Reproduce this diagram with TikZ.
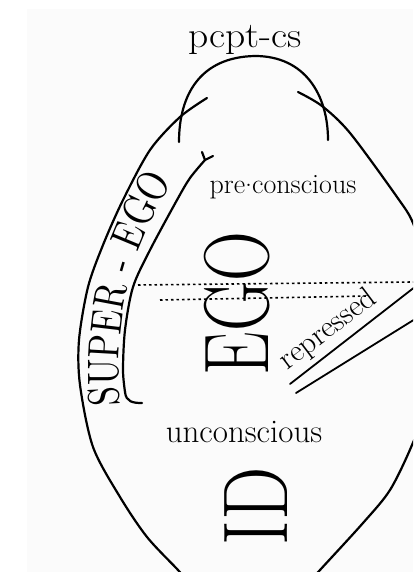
\documentclass[tikz,border=0pt]{standalone}
\usepackage{fontspec}
\usepackage{graphicx}
\usetikzlibrary{decorations.text}
\newfontfamily\condfont{lmroman10-regular.otf}[FakeStretch=0.8]
\begin{document}
\begin{tikzpicture}[x=1pt,y=-1pt,
  ln/.style={line width=2.2pt, line cap=round, line join=round},
  dotln/.style={line width=1.6pt, dash pattern=on 2.5pt off 3pt},
  lbl/.style={inner sep=0pt}]
\useasboundingbox (0,0) rectangle (413,572);
\fill[black!1.5] (27,9) rectangle (413,572);
\begin{scope}
\clip (0,0) rectangle (413,572);
% outer oval, left and right sides
\draw[ln] plot[smooth] coordinates {(207,98) (180,117) (150,150) (123,200) (103,245) (88,287) (79,340) (80,385) (93,447) (120,497) (147,537) (178,570) (186,580)};
\draw[ln] plot[smooth] coordinates {(298,92) (322,106) (350,133) (397,197) (413,223) (428,270) (436,335) (428,400) (412,445) (390,490) (363,523) (320,570) (311,580)};
% repressed double line
\draw[ln, line width=1.8pt] (290,384) -- (420,283);
\draw[ln, line width=1.8pt] (296,393) -- (420,316);
% dotted boundaries
\draw[dotln] (138,285) -- (413,282);
\end{scope}
\draw[dotln] (160,300) -- (368,296);
% perception-consciousness cap
\draw[ln] (179,142) .. controls (179,95) and (200,57) .. (255,56) .. controls (305,56) and (328,95) .. (328,140);
% super-ego inner arc
\draw[ln] plot[smooth] coordinates {(205,160) (190,178) (177,200) (150,250) (133,287) (125,330) (123,370) (125,392)};
\draw[ln] (125,392) .. controls (126,402) and (133,403) .. (142,403);
\draw[ln] (205,160) -- (202,152);
\draw[ln] (205,160) -- (213,156);
% texts
\node[lbl, font=\fontsize{36}{36}\selectfont, anchor=base] (pcpt) at (245,48) {\scalebox{1.1}[1]{pcpt-cs}};
\node[lbl, font=\fontsize{28}{28}\selectfont, anchor=base] (pre) at (283,193) {pre\raisebox{.22em}{.}conscious};
\node[lbl, font=\fontsize{33}{33}\selectfont, anchor=base] (uncon) at (244,442) {unconscious};
\node[lbl, rotate=90] (ego) at (237.5,303.5) {\fontsize{92}{92}\selectfont\scalebox{0.75}[1]{EGO}};
\node[lbl, rotate=90] (id) at (256,506) {\fontsize{92}{92}\selectfont\scalebox{0.82}[1]{ID}};
\node[lbl, rotate=37, anchor=base, font=\fontsize{31}{31}\selectfont] (rep) at (333,336) {repressed};
\path[decorate, decoration={text along path, text align=left,
  text={|\condfont\fontsize{44}{44}\selectfont|SUPER - EGO}}]
  (120,405) .. controls (116,350) and (122,300) .. (135,260)
  .. controls (144,232) and (165,190) .. (192,152);
\end{tikzpicture}
\end{document}
